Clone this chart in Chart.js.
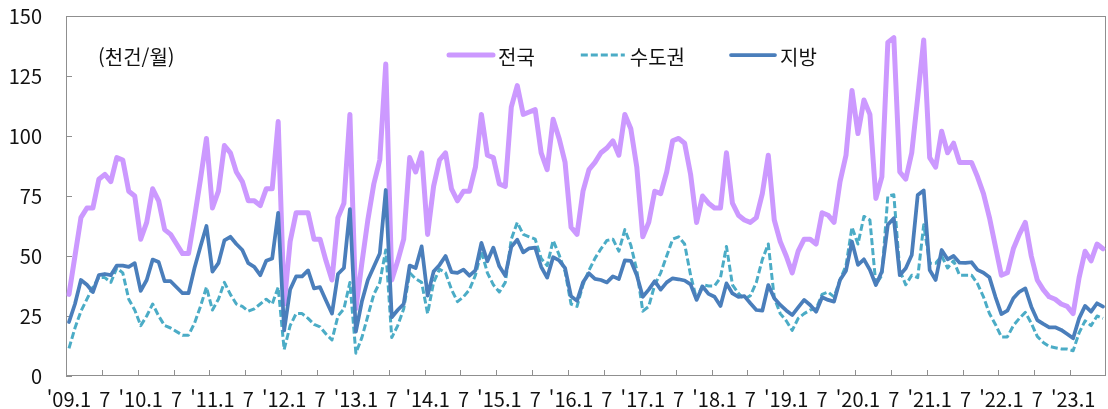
<!DOCTYPE html>
<html lang="ko">
<head>
<meta charset="utf-8">
<title>주택 매매거래량</title>
<script src="https://cdn.jsdelivr.net/npm/chart.js@4.4.1/dist/chart.umd.min.js"></script>
<style>
  html, body { margin: 0; padding: 0; background: #fff; }
  #wrap { width: 1108px; height: 409px; position: relative; }
</style>
</head>
<body>
<div id="wrap"><canvas id="tradeChart"></canvas></div>
<script>
// 월별 주택 매매거래량 ('09.1 ~ '23.6), 단위: 천건/월
const firstYear = 2009;
const monthCount = 174;

const tickLabels = ["'09.1", "7", "'10.1", "7", "'11.1", "7", "'12.1", "7", "'13.1", "7",
  "'14.1", "7", "'15.1", "7", "'16.1", "7", "'17.1", "7", "'18.1", "7",
  "'19.1", "7", "'20.1", "7", "'21.1", "7", "'22.1", "7", "'23.1"];

const national = [
  34, 50, 66, 70, 70, 82, 84, 81, 91, 90, 77, 75,
  57, 64, 78, 73, 61, 59, 55, 51, 51, 66, 82, 99,
  70, 77, 96, 93, 85, 81, 73, 73, 71, 78, 78, 106,
  30, 56, 68, 68, 68, 57, 57, 48, 40, 66, 72, 109,
  28, 47, 65, 80, 90, 130, 40, 48, 57, 91, 85, 93,
  59, 79, 90, 93, 78, 73, 77, 77, 87, 109, 92, 91,
  80, 79, 112, 121, 109, 110, 111, 93, 86, 107, 99, 89,
  62, 59, 77, 86, 89, 93, 95, 98, 92, 109, 103, 87,
  58, 64, 77, 76, 85, 98, 99, 97, 84, 64, 75, 72,
  70, 70, 93, 72, 67, 65, 64, 66, 76, 92, 65, 56,
  50, 43, 52, 57, 57, 55, 68, 67, 64, 81, 92, 119,
  101, 115, 109, 74, 83, 139, 141, 85, 82, 93, 116, 140,
  91, 87, 102, 93, 97, 89, 89, 89, 83, 76, 66, 54,
  42, 43, 53, 59, 64, 50, 40, 36, 33, 32, 30, 29,
  26, 41, 52, 48, 55, 53
];

const capital = [
  11.5, 20, 27, 32, 37, 41, 41, 39, 45, 43, 32, 27.5,
  21, 25, 30, 25, 21, 20, 18.5, 17, 17, 22, 29, 37,
  27.5, 32, 39, 34, 30, 29, 27, 28, 30, 32, 30, 37,
  11, 21, 26, 26, 24, 21.5, 20.5, 17.5, 15, 25, 28, 39,
  9.5, 16, 25, 34, 39, 52.5, 16, 21, 28, 43, 40.5, 39,
  26, 39, 44.5, 43, 36, 31, 33, 36, 42, 52, 43, 38,
  35, 39, 57, 64, 59, 58, 57, 49, 46, 56.5, 50.5, 43.5,
  30, 29, 38, 44, 49, 53, 56.5, 57, 52, 61, 54.5, 44,
  27, 29, 38, 43, 50, 57, 58, 55, 42, 32, 38, 37.5,
  37.5, 41, 54, 38, 34.5, 32, 33.5, 39, 48.5, 55, 32.5, 26,
  23, 19, 24, 26, 27.5, 28, 34, 35, 33, 40, 46, 62,
  55, 66.5, 65, 38, 42, 75, 75.5, 44, 38, 42, 41, 63,
  47, 47, 50, 45, 48, 42, 42, 42, 38.5, 33, 26, 21.5,
  16.3, 16.3, 21, 24, 26.5, 22, 16.5, 14, 12.3, 11.8, 11.3, 11.2,
  10.5, 18, 23, 21, 25, 24
];

const regional = [
  22.5, 30, 40, 38, 35, 42, 42.5, 42, 46, 46, 45.5, 47,
  35.5, 40, 48.5, 47.5, 39.5, 39.5, 37, 34.5, 34.5, 45, 54, 62.5,
  43.5, 47, 56.5, 58, 55, 52.5, 47, 45.5, 42, 48, 49, 68,
  19, 36, 41.5, 41.5, 44, 36.5, 37, 31.5, 26, 42.5, 45, 69.5,
  18.5, 31, 40, 45.5, 51, 77.5, 24.5, 27.5, 30, 46, 45, 54,
  33.5, 43.5, 46.3, 50, 43.3, 43, 44.3, 41.8, 44, 55.5, 47.8, 53.5,
  45.7, 41.8, 53.8, 56.8, 51.5, 53.2, 53.5, 45.5, 41, 49.5, 48.2, 44.9,
  33.2, 31.3, 39, 42.8, 40.5, 40, 39, 41.5, 40.4, 48.2, 48, 42,
  33, 36, 39.5, 36, 39, 40.7, 40.3, 39.8, 38.2, 31.7, 37.3, 34.2,
  33, 29.2, 38.6, 34.4, 33, 33.3, 30.3, 27.5, 27.2, 37.9, 32.4, 29.6,
  27.3, 25.4, 28.6, 31.7, 29.6, 26.8, 32.8, 31.7, 31, 40, 43.9, 56,
  46.3, 48.6, 44.2, 37.9, 43.5, 63, 65.7, 42, 44.9, 50.4, 75.4, 77.3,
  44.2, 40, 52.5, 48.6, 50, 47.2, 47.1, 47.4, 44.2, 43, 41.1, 33,
  25.8, 27.2, 32.4, 35.1, 36.5, 28.9, 23.3, 21.7, 20.3, 20.3, 19.2, 17.5,
  15.7, 24, 29.2, 26.8, 30.3, 28.9
];

// 월 카테고리 (YYYY.M)
const months = [];
for (let i = 0; i < monthCount; i++) {
  months.push((firstYear + Math.floor(i / 12)) + '.' + (i % 12 + 1));
}

const FONT = "'Noto Sans CJK KR', 'Noto Sans', sans-serif";
const AXIS_GRAY = '#8f8f8f';
Chart.defaults.font.family = FONT;
Chart.defaults.font.size = 20;
Chart.defaults.color = '#111';

// 축 눈금(안쪽), 테두리, 범례, 단위 표시
const decorPlugin = {
  id: 'decor',
  beforeDatasetsDraw(chart) {
    const { ctx, chartArea: a, scales: { x, y } } = chart;
    const half = (x.getPixelForValue(1) - x.getPixelForValue(0)) / 2;
    ctx.save();
    ctx.strokeStyle = AXIS_GRAY;
    ctx.lineWidth = 1;
    ctx.strokeRect(a.left + 0.5, a.top + 0.5, a.right - a.left - 1, a.bottom - a.top - 1);
    ctx.beginPath();
    for (let i = 6; i < months.length; i += 6) {
      const px = Math.round(x.getPixelForValue(i) - half) + 0.5;
      ctx.moveTo(px, a.bottom);
      ctx.lineTo(px, a.bottom - 6);
    }
    y.ticks.forEach(t => {
      const py = Math.round(y.getPixelForValue(t.value)) + 0.5;
      ctx.moveTo(a.left, py);
      ctx.lineTo(a.left + 6, py);
    });
    ctx.stroke();
    ctx.restore();
  },
  afterDatasetsDraw(chart) {
    const { ctx } = chart;
    ctx.save();
    ctx.font = '20px ' + FONT;
    ctx.fillStyle = '#111';
    ctx.textBaseline = 'middle';
    ctx.textAlign = 'left';
    ctx.fillText('(천건/월)', 98, 57);

    let lx = 449;
    chart.data.datasets.forEach(ds => {
      ctx.beginPath();
      ctx.strokeStyle = ds.borderColor;
      ctx.lineWidth = ds.borderWidth;
      ctx.setLineDash(ds.borderDash || []);
      ctx.lineCap = ds.borderDash ? 'butt' : 'round';
      ctx.moveTo(lx, 55);
      ctx.lineTo(lx + 44, 55);
      ctx.stroke();
      ctx.setLineDash([]);
      ctx.fillText(ds.label, lx + 49, 57);
      lx += 49 + ctx.measureText(ds.label).width + 46;
    });
    ctx.restore();
  }
};

new Chart(document.getElementById('tradeChart'), {
  type: 'line',
  data: {
    labels: months,
    datasets: [
      {
        label: '전국',
        data: national,
        borderColor: '#cc99ff',
        borderWidth: 5,
        borderJoinStyle: 'round',
        borderCapStyle: 'round',
        pointRadius: 0,
        tension: 0,
        order: 3
      },
      {
        label: '수도권',
        data: capital,
        borderColor: '#4bacc6',
        borderWidth: 3,
        borderDash: [7, 3],
        borderJoinStyle: 'round',
        pointRadius: 0,
        tension: 0,
        order: 2
      },
      {
        label: '지방',
        data: regional,
        borderColor: '#4a7ebb',
        borderWidth: 3.75,
        borderJoinStyle: 'round',
        borderCapStyle: 'round',
        pointRadius: 0,
        tension: 0,
        order: 1
      }
    ]
  },
  options: {
    responsive: true,
    maintainAspectRatio: false,
    animation: false,
    layout: { padding: { top: 16, right: 2, left: 0, bottom: 0 } },
    scales: {
      x: {
        type: 'category',
        offset: true,
        grid: { display: false, drawTicks: false },
        border: { display: false },
        ticks: {
          autoSkip: false,
          maxRotation: 0,
          padding: 11,
          callback: function(value, index) {
            return index % 6 === 0 ? tickLabels[index / 6] : '';
          }
        },
        afterFit: s => {
          s.height = 33;
          s.paddingLeft = 0;
          s.paddingRight = 0;
        }
      },
      y: {
        min: 0,
        max: 150,
        grid: { display: false, drawTicks: false },
        border: { display: false },
        ticks: { stepSize: 25, padding: 24 },
        afterFit: s => {
          s.width = 66;
          s.paddingTop = 0;
          s.paddingBottom = 0;
        }
      }
    },
    plugins: {
      legend: { display: false },
      tooltip: { enabled: false }
    }
  },
  plugins: [decorPlugin]
});
</script>
</body>
</html>
